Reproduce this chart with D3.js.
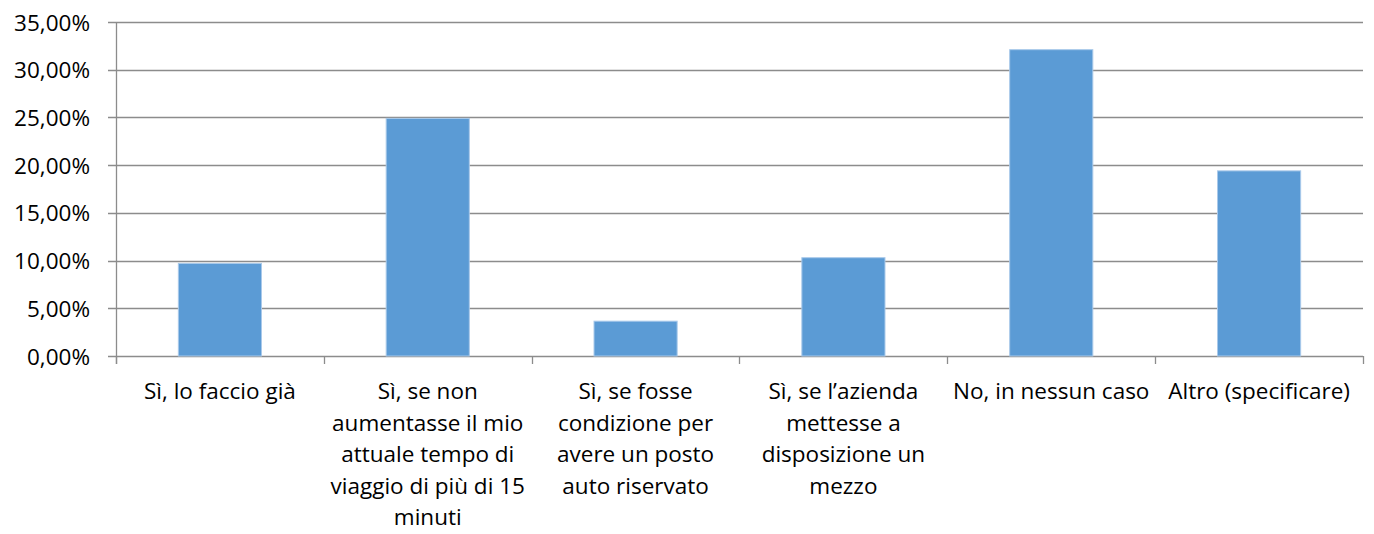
<!DOCTYPE html>
<html>
<head>
<meta charset="utf-8">
<script src="https://cdn.jsdelivr.net/npm/d3@7"></script>
<style>
  body { margin: 0; background: #fff; }
  svg text { font-family: "Open Sans", sans-serif; fill: #000; }
</style>
</head>
<body>
<svg width="1374" height="534"></svg>
<script>
// categories (line breaks as in the original chart)
var categories = [
    "Sì, lo faccio già",
    "Sì, se non\naumentasse il mio\nattuale tempo di\nviaggio di più di 15\nminuti",
    "Sì, se fosse\ncondizione per\navere un posto\nauto riservato",
    "Sì, se l’azienda\nmettesse a\ndisposizione un\nmezzo",
    "No, in nessun caso",
    "Altro (specificare)"
];
var values = [0.097, 0.249, 0.0365, 0.103, 0.321, 0.194];
var yTicks = [0, 0.05, 0.10, 0.15, 0.20, 0.25, 0.30, 0.35];

var svg = d3.select("svg"),
    plotLeft = 116, plotRight = 1363, plotTop = 22, plotBottom = 356;
var gridColor = "#8c8c8c";
var fontSize = "22.5px";

var it = d3.formatLocale({decimal: ",", thousands: ".", grouping: [3], currency: ["", "€"]});
var pct = it.format(".2%");

var x = d3.scaleBand()
    .domain(categories)
    .range([plotLeft, plotRight])
    .paddingInner(0.6)
    .paddingOuter(0.3);

var y = d3.scaleLinear()
    .domain([0, 0.35])
    .range([plotBottom, plotTop]);

// gridlines
svg.append("g")
    .selectAll("line")
    .data(yTicks)
    .enter().append("line")
    .attr("x1", plotLeft - 8)
    .attr("x2", plotRight)
    .attr("y1", function(d) { return Math.round(y(d)) + 0.5; })
    .attr("y2", function(d) { return Math.round(y(d)) + 0.5; })
    .attr("stroke", gridColor)
    .attr("stroke-width", 1.3);

// y axis
var yAxis = svg.append("g")
    .attr("transform", "translate(" + plotLeft + ",0)")
    .call(d3.axisLeft(y).tickValues(yTicks).tickFormat(pct).tickSize(0).tickPadding(26));
yAxis.select(".domain").attr("stroke", gridColor).attr("stroke-width", 1.3)
    .attr("d", "M0.5," + plotTop + "V" + (plotBottom + 8));
yAxis.selectAll("text").style("font-size", fontSize).attr("fill", "#000").attr("dy", "0.36em");

// x axis tick marks at category boundaries
var bounds = categories.map(function(c) { return x(c) - x.step() * x.paddingInner() / 2; });
bounds.push(plotRight);
svg.append("g")
    .selectAll("line")
    .data(bounds)
    .enter().append("line")
    .attr("x1", function(d) { return Math.round(d) + 0.5; })
    .attr("x2", function(d) { return Math.round(d) + 0.5; })
    .attr("y1", plotBottom)
    .attr("y2", plotBottom + 8)
    .attr("stroke", gridColor)
    .attr("stroke-width", 1.3);

// bars
svg.append("g")
    .selectAll("rect")
    .data(values)
    .enter().append("rect")
    .attr("x", function(d, i) { return x(categories[i]); })
    .attr("width", x.bandwidth())
    .attr("y", function(d) { return y(d); })
    .attr("height", function(d) { return plotBottom - y(d); })
    .attr("fill", "#5b9bd5")
    .attr("stroke", "#a9c9ea")
    .attr("stroke-width", 1);

// category labels
var lab = svg.append("g")
    .selectAll("text")
    .data(categories)
    .enter().append("text")
    .attr("text-anchor", "middle")
    .style("font-size", fontSize)
    .attr("y", 399);
lab.selectAll("tspan")
    .data(function(d) { return d.split("\n"); })
    .enter().append("tspan")
    .attr("x", function() { var c = d3.select(this.parentNode).datum(); return x(c) + x.bandwidth() / 2; })
    .attr("dy", function(d, i) { return i ? 31.6 : 0; })
    .text(function(d) { return d; });
</script>
</body>
</html>
